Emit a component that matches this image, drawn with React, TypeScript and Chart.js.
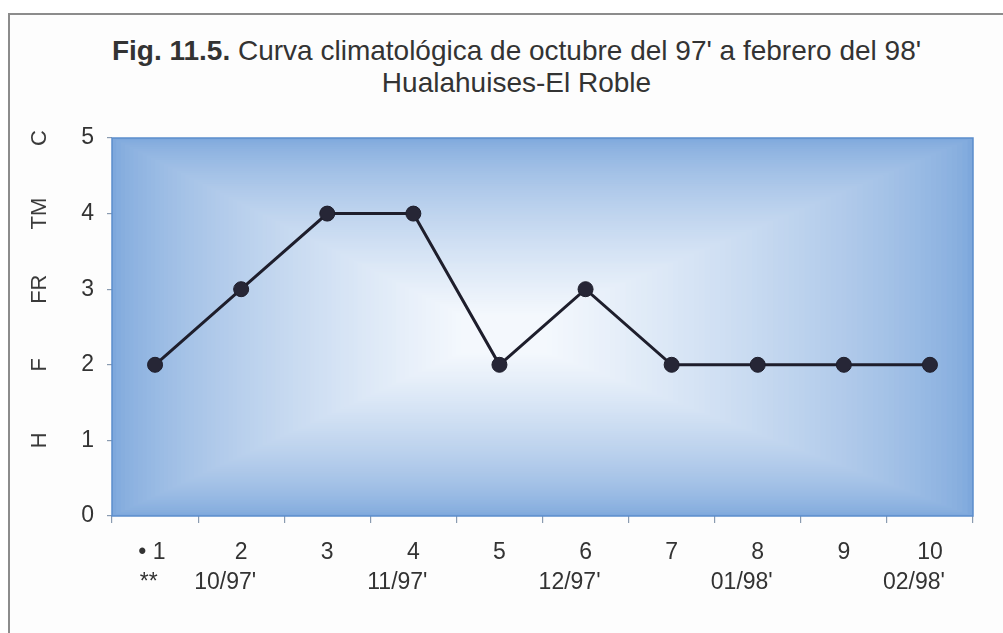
import React, { useEffect, useRef } from "react";
import { Chart, registerables } from "chart.js";

Chart.register(...registerables);

const categories = ["1", "2", "3", "4", "5", "6", "7", "8", "9", "10"];
const monthLabels = ["**", "10/97'", "", "11/97'", "", "12/97'", "", "01/98'", "", "02/98'"];
const values = [2, 3, 4, 4, 2, 3, 2, 2, 2, 2];
const yTickValues = [0, 1, 2, 3, 4, 5];
const yLetters = ["", "H", "F", "FR", "TM", "C"];
const titleBold = "Fig. 11.5.";
const titleRest = " Curva climatológica de octubre del 97' a febrero del 98'";
const subtitle = "Hualahuises-El Roble";

const FONT = "'Liberation Sans Narrow', 'Arial Narrow', 'Liberation Sans', Arial, sans-serif";

function lerp(a: number[], b: number[], t: number) {
  return `rgb(${Math.round(a[0] + (b[0] - a[0]) * t)},${Math.round(a[1] + (b[1] - a[1]) * t)},${Math.round(a[2] + (b[2] - a[2]) * t)})`;
}

const plotBgPlugin = {
  id: "plotBg",
  beforeDraw(chart: any) {
    const { ctx, chartArea } = chart;
    const { left, top, right, bottom } = chartArea;
    const w = right - left;
    const h = bottom - top;
    const cx = left + w * 0.45;
    const cy = top + h * 0.52;
    const edge = [126, 168, 220];
    const center = [244, 248, 253];
    const N = 90;
    ctx.save();
    for (let i = 0; i <= N; i++) {
      const t = i / N;
      const l = left + (cx - left) * t;
      const r = right - (right - cx) * t;
      const tp = top + (cy - top) * t;
      const b = bottom - (bottom - cy) * t;
      const tt = Math.min(1, Math.pow(t, 0.7) * 1.08);
      ctx.fillStyle = lerp(edge, center, tt);
      ctx.fillRect(l, tp, Math.max(r - l, 1), Math.max(b - tp, 1));
    }
    ctx.restore();
  },
  beforeDatasetsDraw(chart: any) {
    const { ctx, chartArea } = chart;
    ctx.save();
    ctx.strokeStyle = "#5b8dcc";
    ctx.lineWidth = 1.5;
    ctx.strokeRect(chartArea.left, chartArea.top, chartArea.right - chartArea.left, chartArea.bottom - chartArea.top);
    ctx.restore();
  },
  afterDraw(chart: any) {
    const { ctx } = chart;
    const ys = chart.scales.y;
    ctx.save();
    ctx.fillStyle = "#3a3a3a";
    ctx.font = `22px ${FONT}`;
    ctx.textAlign = "center";
    ctx.textBaseline = "middle";
    yLetters.forEach((letter, i) => {
      if (!letter) return;
      const y = ys.getPixelForValue(yTickValues[i]);
      ctx.save();
      ctx.translate(40, y);
      ctx.rotate(-Math.PI / 2);
      ctx.fillText(letter, 0, 0);
      ctx.restore();
    });
    ctx.restore();
  },
};

export default function App() {
  const ref = useRef<HTMLCanvasElement | null>(null);

  useEffect(() => {
    document.body.style.overflow = "hidden";
    const canvas = ref.current;
    if (!canvas) return;
    const labels = categories.map((c, i) => {
      const first = i === 0 ? "• " + c + " " : c;
      const second = monthLabels[i] ? (i === 0 ? monthLabels[i] + "  " : monthLabels[i] + "     ") : "";
      return [first, second];
    });
    const chart = new Chart(canvas, {
      type: "line",
      data: {
        labels,
        datasets: [
          {
            data: values,
            borderColor: "#1e1e2c",
            borderWidth: 3,
            pointRadius: 7.5,
            pointBackgroundColor: "#262636",
            pointBorderColor: "#1e1e2c",
            pointBorderWidth: 1,
            tension: 0,
          },
        ],
      },
      plugins: [plotBgPlugin],
      options: {
        responsive: false,
        animation: false,
        events: [],
        layout: { padding: { top: 138, right: 30, left: 0, bottom: 0 } },
        plugins: {
          legend: { display: false },
          title: { display: false },
          tooltip: { enabled: false },
        },
        scales: {
          x: {
            type: "category",
            offset: true,
            grid: {
              offset: true,
              drawOnChartArea: false,
              drawTicks: true,
              tickLength: 7,
              color: "#8a9bb0",
              lineWidth: 1.2,
            },
            border: { display: false },
            ticks: {
              autoSkip: false,
              maxRotation: 0,
              minRotation: 0,
              padding: 15,
              color: "#333333",
              font: { family: FONT, size: 23, lineHeight: 1.3 },
            },
            afterFit: (s: any) => {
              s.height = 117;
            },
          },
          y: {
            min: 0,
            max: 5,
            ticks: {
              stepSize: 1,
              padding: 13,
              color: "#333333",
              font: { family: FONT, size: 23 },
            },
            grid: {
              drawOnChartArea: false,
              drawTicks: true,
              tickLength: 5,
              color: "#8a9bb0",
              lineWidth: 1.2,
            },
            border: { display: false },
            afterFit: (s: any) => {
              s.width = 112;
            },
          },
        },
      },
    } as any);
    return () => chart.destroy();
  }, []);

  return (
    <div style={{ position: "fixed", left: 0, top: 0, width: 1003, height: 633, background: "#ffffff", overflow: "hidden" }}>
      <div
        style={{
          position: "absolute",
          left: 8,
          top: 13,
          right: -2,
          bottom: -2,
          borderTop: "2px solid #8c8c8c",
          borderLeft: "2px solid #8c8c8c",
          background: "#fdfdfd",
        }}
      />
      <div
        style={{
          position: "absolute",
          left: 30,
          right: 0,
          top: 35,
          textAlign: "center",
          fontFamily: FONT,
          fontSize: 28,
          lineHeight: "32px",
          color: "#333333",
        }}
      >
        <div>
          <b>{titleBold}</b>
          {titleRest}
        </div>
        <div>{subtitle}</div>
      </div>
      <canvas ref={ref} width={1003} height={633} style={{ position: "absolute", left: 0, top: 0, width: 1003, height: 633 }} />
    </div>
  );
}
